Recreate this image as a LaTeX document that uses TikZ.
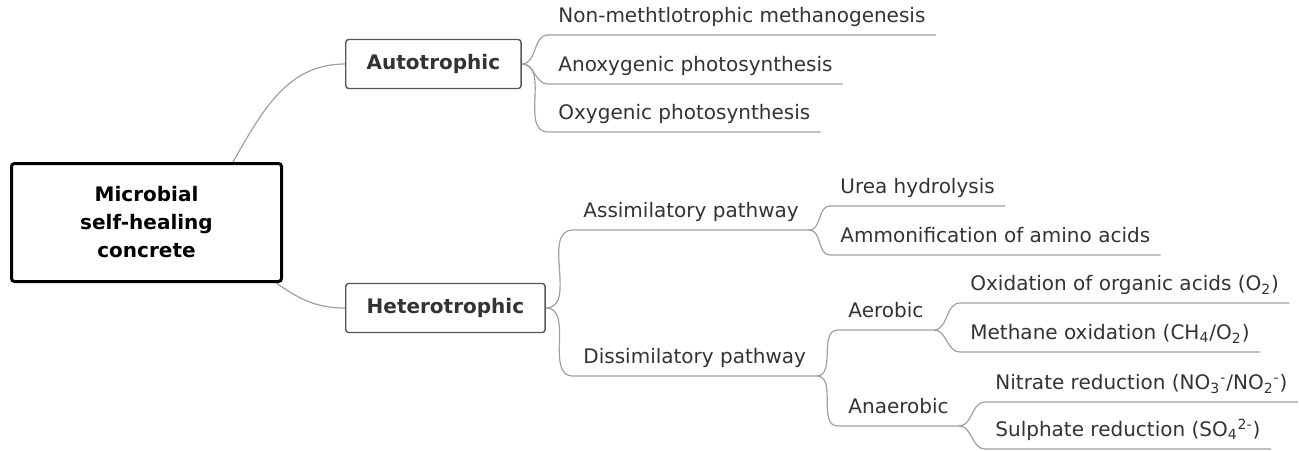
\documentclass[tikz,border=0pt]{standalone}
\usepackage{fontspec}
\setmainfont{DejaVu Sans}
\usetikzlibrary{positioning}
\definecolor{mmline}{HTML}{A0A0A0}
\definecolor{mmtext}{HTML}{333333}
\definecolor{mmbox}{HTML}{555555}

\begin{document}
\begin{tikzpicture}[x=0.5pt, y=-0.5pt,
    font=\fontsize{10}{14}\selectfont, text=mmtext,
    rootbox/.style={draw=black, line width=1.5pt, rounded corners=1.5pt,
        minimum width=135pt, minimum height=59pt, align=center,
        font=\fontsize{10}{14}\selectfont\bfseries, text=black},
    mainbox/.style={draw=mmbox, line width=0.7pt, rounded corners=1.5pt,
        anchor=west, inner xsep=10.5pt, minimum height=24.5pt,
        font=\fontsize{10}{14}\selectfont\bfseries},
    leaf/.style={anchor=south west, inner xsep=5pt, inner ysep=3.5pt,
        text height=0.76em, text depth=0.25em},
    link/.style={draw=mmline, line width=0.6pt}]
    \useasboundingbox (0,0) rectangle (1299,450);

    % central topic
    \node[rootbox] (root) at (146.5,222.5) {Microbial\\self-healing\\concrete};

    % main branches
    \node[mainbox] (auto) at (345,64) {Autotrophic};
    \node[mainbox] (hetero) at (345,308) {Heterotrophic};

    % autotrophic leaves
    \node[leaf] (nm) at (548,35) {Non-methtlotrophic methanogenesis};
    \node[leaf] (anox) at (548,84) {Anoxygenic photosynthesis};
    \node[leaf] (oxy) at (548,132) {Oxygenic photosynthesis};

    % heterotrophic pathways
    \node[leaf] (assim) at (573,230) {Assimilatory pathway};
    \node[leaf] (dissim) at (573,376) {Dissimilatory pathway};
    \node[leaf] (urea) at (830,206) {Urea hydrolysis};
    \node[leaf] (ammon) at (830,255) {Ammonification of amino acids};
    \node[leaf] (aer) at (838,330) {Aerobic};
    \node[leaf] (anaer) at (838,426) {Anaerobic};
    \node[leaf] (oxorg) at (960,303) {Oxidation of organic acids (O\textsubscript{2})};
    \node[leaf] (methox) at (960,352) {Methane oxidation (CH\textsubscript{4}/O\textsubscript{2})};
    \node[leaf] (nitr) at (985,402) {Nitrate reduction (NO\textsubscript{3}\textsuperscript{-}/NO\textsubscript{2}\textsuperscript{-})};
    \node[leaf] (sulph) at (985,449) {Sulphate reduction (SO\textsubscript{4}\textsuperscript{2-})};

    % connectors
    \draw[link] (root.35) to[out=60, in=180] (auto.west);
    \draw[link] (root.-25) to[out=-35, in=180] (hetero.west);
    \foreach \p/\c in {auto/nm, auto/anox, auto/oxy, hetero/assim, hetero/dissim}
        \draw[link] (\p.east) to[out=0, in=180] (\c.south west) -- (\c.south east);
    \foreach \p/\c in {assim/urea, assim/ammon, dissim/aer, dissim/anaer,
                       aer/oxorg, aer/methox, anaer/nitr, anaer/sulph}
        \draw[link] (\p.south east) to[out=0, in=180] (\c.south west) -- (\c.south east);
\end{tikzpicture}
\end{document}
